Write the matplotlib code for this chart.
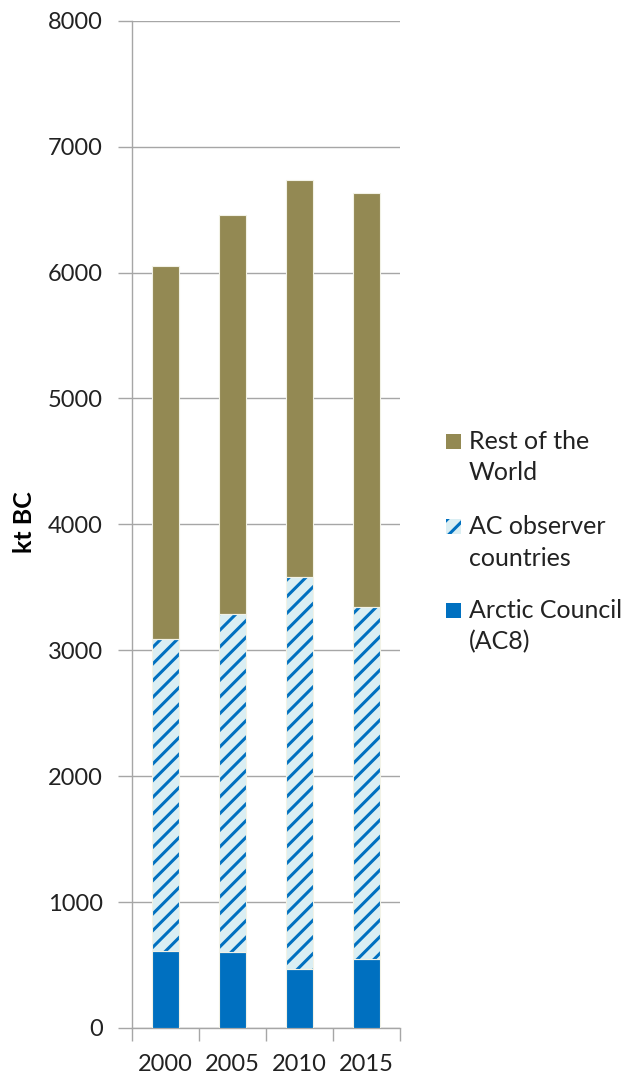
import matplotlib
matplotlib.use("Agg")
import matplotlib.pyplot as plt
from matplotlib.patches import Rectangle
import numpy as np

# Black carbon emissions (kt BC) by region group
years = ["2000", "2005", "2010", "2015"]
arctic_council = [610, 600, 470, 550]
observer_top = [3090, 3285, 3585, 3340]
world_total = [6050, 6455, 6735, 6630]

observers = [t - a for t, a in zip(observer_top, arctic_council)]
rest_of_world = [w - t for w, t in zip(world_total, observer_top)]

legend_labels = ["Rest of the\nWorld", "AC observer\ncountries", "Arctic Council\n(AC8)"]

BLUE = "#0070C0"
LIGHT_BLUE = "#DAEEF3"
OLIVE = "#938953"
GRID = "#A6A6A6"
EDGE = "#F2F2E6"
TEXT = "#222222"

plt.rcParams["font.family"] = ["Lato", "DejaVu Sans"]
plt.rcParams["hatch.linewidth"] = 2.2

W, H = 627, 1075
fig = plt.figure(figsize=(W / 100, H / 100), dpi=100)
ax = fig.add_axes([132 / W, 1 - 1028 / H, (400 - 132) / W, (1028 - 20.7) / H])

x = np.arange(len(years))
width = 0.4

ax.bar(x, arctic_council, width, color=BLUE, edgecolor=EDGE, linewidth=0.8, zorder=3)
ax.bar(x, observers, width, bottom=arctic_council, color=LIGHT_BLUE,
       edgecolor=BLUE, linewidth=0, hatch="//", zorder=3)
ax.bar(x, observers, width, bottom=arctic_council, fill=False,
       edgecolor=EDGE, linewidth=0.8, zorder=4)
ax.bar(x, rest_of_world, width, bottom=observer_top, color=OLIVE,
       edgecolor=EDGE, linewidth=0.8, zorder=3)

ax.set_ylim(0, 8000)
ax.set_xlim(-0.5, len(years) - 0.5)
ax.set_yticks(np.arange(0, 8001, 1000))
ax.yaxis.grid(True, color=GRID, linewidth=1.0, zorder=0)
ax.tick_params(axis="y", length=10, width=1.0, color=GRID, labelsize=17,
               pad=11, labelcolor=TEXT)

# category separators on the x axis, labels centred under each bar
ax.set_xticks(np.arange(-0.5, len(years), 1.0))
ax.set_xticklabels([])
ax.set_xticks(x, minor=True)
ax.set_xticklabels(years, minor=True)
ax.tick_params(axis="x", which="major", length=9, width=1.0, color=GRID)
ax.tick_params(axis="x", which="minor", length=0, labelsize=17, pad=19,
               labelcolor=TEXT)

for side in ("top", "right"):
    ax.spines[side].set_visible(False)
for side in ("left", "bottom"):
    ax.spines[side].set_color(GRID)
    ax.spines[side].set_linewidth(1.0)
ax.set_axisbelow(True)

fig.text(24 / W, 1 - 522 / H, "kt BC", rotation=90, ha="center", va="center",
         fontsize=18, fontweight="bold", color="black")

# legend drawn in figure pixel coordinates
legend_y = [441, 526, 610]
styles = [dict(facecolor=OLIVE, edgecolor="none"),
          dict(facecolor=LIGHT_BLUE, edgecolor=BLUE, hatch="//", linewidth=0),
          dict(facecolor=BLUE, edgecolor="none")]
for label, yc, st in zip(legend_labels, legend_y, styles):
    fig.patches.append(Rectangle((446 / W, 1 - (yc + 8) / H), 15 / W, 15 / H,
                                 transform=fig.transFigure, figure=fig, **st))
    for i, line in enumerate(label.split("\n")):
        fig.text(469 / W, 1 - (yc + i * 32) / H, line, ha="left", va="center",
                 fontsize=18, color=TEXT)

fig.savefig("out.png", dpi=100)
